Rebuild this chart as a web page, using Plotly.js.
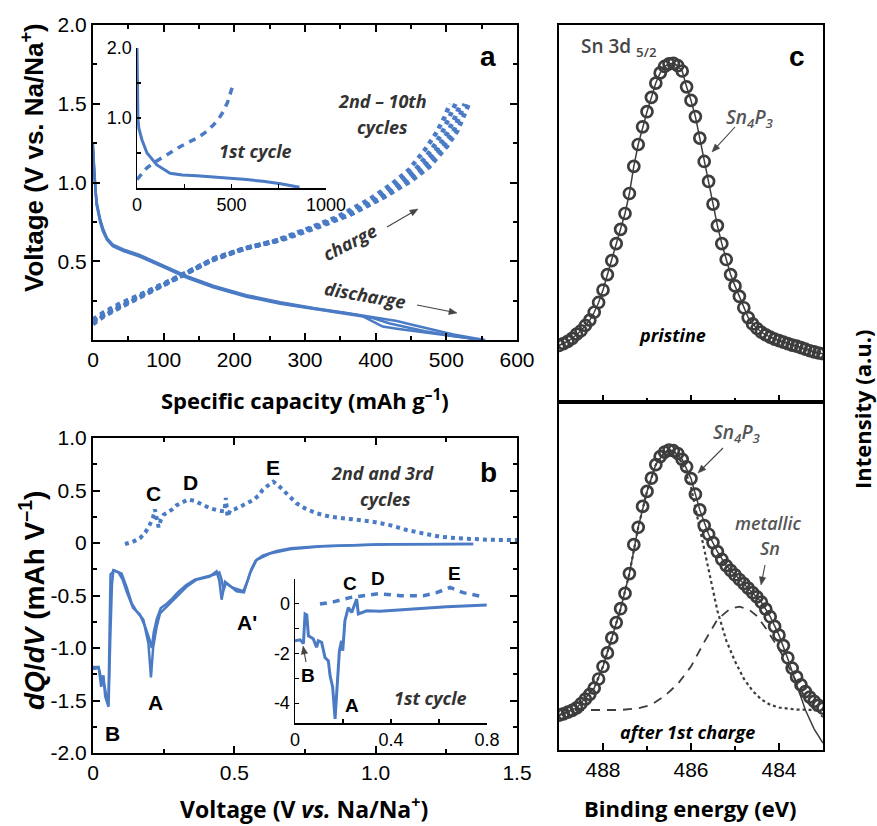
<!DOCTYPE html>
<html><head><meta charset="utf-8">
<script src="https://cdn.plot.ly/plotly-3.0.1.min.js"></script>
<style>html,body{margin:0;padding:0;background:#fff}#chart{width:877px;height:826px}</style>
</head><body><div id="chart"></div>
<script>
// ---------- Panel a : galvanostatic profiles (cycles 2-10) ----------
const disA_cap = [0,2,5,10,14,20,28,43,66,99,133,170,217,265,312,359,380,395,410,430,460,500,530,545];
const disA_V   = [1.25,1.05,0.87,0.76,0.70,0.64,0.60,0.57,0.535,0.47,0.40,0.34,0.28,0.235,0.20,0.17,0.155,0.12,0.085,0.072,0.055,0.03,0.012,0.0];
const disB_cap = [0,2,5,10,14,20,28,43,66,99,133,170,217,265,312,359,396,420,440,470,510,540,550];
const disB_V   = [1.2,1.03,0.86,0.75,0.69,0.635,0.595,0.565,0.53,0.465,0.395,0.335,0.275,0.23,0.197,0.168,0.14,0.105,0.085,0.055,0.025,0.008,0.0];
const disC_cap = [0,2,5,10,14,20,28,43,66,99,133,170,217,265,312,359,396,430,453,480,510,540,555];
const disC_V   = [1.22,1.04,0.88,0.77,0.71,0.645,0.605,0.575,0.54,0.475,0.405,0.345,0.285,0.24,0.203,0.172,0.145,0.12,0.095,0.065,0.035,0.012,0.0];
const chA_cap = [0,15,40,75,123,170,217,264,311,359,406,440,465,488,502,513,520];
const chA_V   = [0.12,0.16,0.22,0.30,0.40,0.515,0.585,0.635,0.71,0.79,0.90,1.0,1.09,1.22,1.32,1.42,1.50];
const chB_cap = [0,15,40,75,120,165,210,255,300,345,390,423,447,470,485,497,505];
const chB_V   = [0.10,0.15,0.21,0.29,0.39,0.50,0.575,0.625,0.70,0.78,0.89,0.99,1.08,1.21,1.31,1.41,1.50];
const chC_cap = [0,15,40,78,126,175,222,270,318,366,413,450,476,501,516,526,532];
const chC_V   = [0.13,0.175,0.235,0.31,0.415,0.525,0.59,0.64,0.715,0.80,0.91,1.01,1.10,1.23,1.33,1.43,1.50];
const chD_cap = [0,15,40,75,122,168,214,260,306,352,399,432,457,480,494,505,513];
const chD_V   = [0.11,0.155,0.215,0.295,0.395,0.505,0.58,0.63,0.705,0.785,0.895,0.995,1.085,1.215,1.315,1.415,1.50];
const chE_cap = [0,15,40,77,125,173,220,268,315,363,410,446,471,495,510,520,526];
const chE_V   = [0.125,0.168,0.228,0.305,0.41,0.52,0.588,0.638,0.712,0.795,0.905,1.005,1.095,1.225,1.325,1.425,1.50];
// inset a : 1st cycle
const dis1_cap = [0,3,5,10,26,53,105,175,240,316,400,491,580,667,760,860];
const dis1_V   = [2.0,1.5,0.98,0.85,0.69,0.50,0.33,0.21,0.185,0.175,0.16,0.14,0.12,0.095,0.06,0.01];
const ch1_cap  = [0,25,53,100,140,185,228,270,316,360,404,435,456,480,500,505];
const ch1_V    = [0.12,0.2,0.29,0.38,0.45,0.52,0.59,0.65,0.71,0.79,0.90,1.0,1.09,1.23,1.38,1.45];

// ---------- Panel b : dQ/dV ----------
const bDis1_V  = [0.0,0.02,0.029,0.037,0.043,0.055,0.061,0.067,0.072,0.101,0.119,0.137,0.154,0.178,0.196,0.205,0.213,0.225,0.237,0.26,0.296,0.33,0.366,0.413,0.437,0.447,0.455,0.467,0.508,0.534,0.555,0.579,0.626,0.697,0.815,1.05,1.345];
const bDis1_dq = [-1.18,-1.18,-1.37,-1.26,-1.46,-1.56,-0.92,-0.40,-0.26,-0.29,-0.42,-0.575,-0.65,-0.73,-0.955,-1.28,-0.99,-0.80,-0.67,-0.61,-0.51,-0.42,-0.35,-0.32,-0.27,-0.36,-0.54,-0.37,-0.46,-0.47,-0.29,-0.16,-0.10,-0.06,-0.03,-0.013,-0.01];
const bDis2_V  = [0.0,0.02,0.03,0.04,0.05,0.055,0.062,0.075,0.09,0.105,0.12,0.142,0.166,0.185,0.2,0.208,0.215,0.226,0.24,0.26,0.28,0.30,0.33,0.36,0.40,0.43,0.447,0.455,0.462,0.47,0.49,0.51,0.532,0.548,0.56,0.575,0.6,0.65,0.7,0.8,1.0,1.345];
const bDis2_dq = [-1.20,-1.19,-1.30,-1.35,-1.50,-1.45,-0.30,-0.26,-0.28,-0.35,-0.47,-0.62,-0.68,-0.80,-0.92,-1.0,-0.85,-0.72,-0.62,-0.58,-0.53,-0.47,-0.40,-0.35,-0.32,-0.30,-0.28,-0.35,-0.45,-0.38,-0.42,-0.44,-0.46,-0.35,-0.25,-0.17,-0.12,-0.075,-0.05,-0.03,-0.015,-0.01];
const bCh_V  = [0.113,0.14,0.166,0.185,0.20,0.212,0.219,0.225,0.232,0.24,0.25,0.26,0.28,0.296,0.315,0.337,0.36,0.39,0.415,0.437,0.455,0.465,0.47,0.476,0.485,0.50,0.52,0.545,0.567,0.585,0.60,0.62,0.638,0.655,0.673,0.695,0.72,0.75,0.79,0.84,0.886,0.94,0.99,1.05,1.11,1.17,1.227,1.29,1.345,1.41,1.475,1.5];
const bCh_dq = [-0.01,0.01,0.045,0.10,0.17,0.24,0.32,0.22,0.15,0.22,0.27,0.285,0.32,0.36,0.39,0.415,0.40,0.36,0.33,0.314,0.305,0.30,0.43,0.25,0.31,0.32,0.345,0.38,0.41,0.45,0.505,0.55,0.584,0.55,0.505,0.44,0.378,0.33,0.283,0.25,0.235,0.22,0.203,0.17,0.124,0.09,0.06,0.045,0.035,0.03,0.029,0.028];
// inset b : 1st cycle
const b1Dis_V  = [0,0.021,0.035,0.042,0.049,0.056,0.076,0.09,0.097,0.111,0.125,0.139,0.146,0.157,0.167,0.176,0.185,0.194,0.199,0.208,0.222,0.236,0.257,0.264,0.299,0.354,0.493,0.632,0.799];
const b1Dis_dq = [-1.49,-1.45,-1.6,-0.41,-0.45,-1.29,-1.41,-1.75,-1.49,-1.55,-2.16,-2.3,-2.89,-3.36,-4.63,-3.36,-1.89,-1.49,-1.89,-0.68,-0.15,-0.35,0.19,-0.41,-0.28,-0.30,-0.20,-0.12,-0.05];
const b1Ch_V  = [0.104,0.16,0.229,0.299,0.347,0.438,0.535,0.59,0.646,0.701,0.785];
const b1Ch_dq = [-0.01,0.08,0.25,0.36,0.41,0.33,0.33,0.45,0.66,0.45,0.28];

// ---------- Panel c : XPS Sn 3d5/2 ----------
const be = [489.0,488.9,488.8,488.7,488.6,488.5,488.4,488.3,488.2,488.1,488.0,487.9,487.8,487.7,487.6,487.5,487.4,487.3,487.2,487.1,487.0,486.9,486.8,486.7,486.6,486.5,486.4,486.3,486.2,486.1,486.0,485.9,485.8,485.7,485.6,485.5,485.4,485.3,485.2,485.1,485.0,484.9,484.8,484.7,484.6,484.5,484.4,484.3,484.2,484.1,484.0,483.9,483.8,483.7,483.6,483.5,483.4,483.3,483.2,483.1,483.0];
const pristine = [0.150,0.155,0.161,0.169,0.180,0.189,0.203,0.217,0.238,0.264,0.297,0.338,0.375,0.420,0.458,0.500,0.553,0.625,0.683,0.730,0.770,0.808,0.846,0.873,0.890,0.897,0.898,0.892,0.878,0.836,0.800,0.757,0.700,0.638,0.585,0.525,0.468,0.420,0.378,0.338,0.308,0.280,0.250,0.224,0.207,0.195,0.185,0.178,0.172,0.167,0.163,0.159,0.155,0.151,0.148,0.144,0.140,0.136,0.133,0.130,0.128];
const charged = [0.100,0.104,0.109,0.114,0.121,0.133,0.146,0.160,0.178,0.204,0.240,0.279,0.322,0.366,0.406,0.450,0.507,0.590,0.640,0.700,0.743,0.781,0.820,0.843,0.856,0.862,0.860,0.852,0.835,0.814,0.780,0.735,0.690,0.645,0.620,0.596,0.570,0.548,0.530,0.516,0.503,0.490,0.478,0.465,0.452,0.440,0.425,0.405,0.383,0.355,0.330,0.300,0.265,0.235,0.210,0.187,0.168,0.152,0.140,0.128,0.120];
const fitEnv_be = [489.0,488.6,488.2,488.0,487.8,487.6,487.4,487.2,487.0,486.8,486.6,486.5,486.4,486.2,486.0,485.8,485.6,485.4,485.2,485.0,484.8,484.6,484.4,484.2,484.0,483.8,483.6,483.4,483.2,483.0];
const fitEnv   = [0.100,0.121,0.178,0.240,0.322,0.406,0.507,0.640,0.743,0.820,0.856,0.862,0.860,0.835,0.780,0.690,0.620,0.570,0.530,0.503,0.478,0.452,0.425,0.383,0.330,0.262,0.190,0.115,0.060,0.020];
const sn4p3_be = [489.0,488.6,488.2,488.0,487.8,487.6,487.4,487.2,487.0,486.8,486.6,486.5,486.4,486.2,486.0,485.8,485.6,485.4,485.2,485.0,484.8,484.6,484.4,484.2,484.0,483.6,483.0];
const sn4p3    = [0.100,0.121,0.178,0.240,0.322,0.406,0.507,0.640,0.743,0.820,0.855,0.860,0.857,0.825,0.755,0.635,0.510,0.400,0.315,0.255,0.205,0.170,0.145,0.130,0.122,0.116,0.115];
const snMet_be = [489.0,487.6,487.2,486.9,486.6,486.3,486.0,485.7,485.4,485.1,484.9,484.7,484.5,484.3,484.1,483.9,483.6,483.4,483.2,483.0];
const snMet    = [0.115,0.115,0.120,0.130,0.155,0.190,0.240,0.310,0.375,0.407,0.412,0.405,0.385,0.350,0.310,0.268,0.195,0.150,0.115,0.095];

// ---------- style / layout helpers ----------
const W = 877, H = 826;
const X = p => p / W, Y = p => 1 - p / H;
const BLUE = '#4a7bc4', GREY = '#3d3d3d';
const TICKFONT = {family:'Liberation Sans, Arial, sans-serif', size:21, color:'#000'};
const INFONT = {family:'Liberation Sans, Arial, sans-serif', size:18, color:'#000'};

function line(x, y, xa, ya, dash, width, color) {
  return {x:x, y:y, xaxis:xa, yaxis:ya, mode:'lines', type:'scatter', hoverinfo:'skip',
          line:{color:color||BLUE, width:width||2.5, dash:dash||'solid'}};
}
const traces = [
  line(disA_cap, disA_V, 'x', 'y'), line(disB_cap, disB_V, 'x', 'y'), line(disC_cap, disC_V, 'x', 'y'),
  line(chA_cap, chA_V, 'x', 'y', 'dot', 4.5), line(chB_cap, chB_V, 'x', 'y', 'dot', 4.5), line(chC_cap, chC_V, 'x', 'y', 'dot', 4.5),
  line(chD_cap, chD_V, 'x', 'y', 'dot', 4.5), line(chE_cap, chE_V, 'x', 'y', 'dot', 4.5),
  line(dis1_cap, dis1_V, 'x2', 'y2', 'solid', 3), line(ch1_cap, ch1_V, 'x2', 'y2', '7px,6px', 3.5),
  line(bDis1_V, bDis1_dq, 'x3', 'y3'), line(bDis2_V, bDis2_dq, 'x3', 'y3'),
  line(bCh_V, bCh_dq, 'x3', 'y3', 'dot', 4),
  line(b1Dis_V, b1Dis_dq, 'x4', 'y4', 'solid', 3), line(b1Ch_V, b1Ch_dq, 'x4', 'y4', '7px,6px', 3.5),
  line(be, pristine, 'x5', 'y5', 'solid', 1.5, GREY),
  {x:be, y:pristine, xaxis:'x5', yaxis:'y5', mode:'markers', type:'scatter', hoverinfo:'skip',
   marker:{symbol:'circle-open', size:11, color:GREY, line:{width:2.7}}},
  line(sn4p3_be, sn4p3, 'x6', 'y6', 'dot', 2.2, GREY),
  line(snMet_be, snMet, 'x6', 'y6', '9px,7px', 1.8, GREY),
  line(fitEnv_be, fitEnv, 'x6', 'y6', 'solid', 1.5, GREY),
  {x:be, y:charged, xaxis:'x6', yaxis:'y6', mode:'markers', type:'scatter', hoverinfo:'skip',
   marker:{symbol:'circle-open', size:11, color:GREY, line:{width:2.7}}}
];

const MINOR = {ticks:'inside', ticklen:4, tickwidth:2, tickcolor:'#000'};
function mainAxis(dom, range, extra) {
  return Object.assign({domain:dom, range:range, showgrid:false, zeroline:false, showline:true,
    linecolor:'#000', linewidth:2, mirror:'ticks', ticks:'inside', ticklen:7, tickwidth:2, tickcolor:'#000',
    tickfont:TICKFONT, fixedrange:true}, extra);
}
function insetAxis(dom, range, extra) {
  return Object.assign({domain:dom, range:range, showgrid:false, zeroline:false, showline:true,
    linecolor:'#000', linewidth:1.5, ticks:'inside', ticklen:4, tickwidth:1.2, tickcolor:'#000',
    tickfont:INFONT, fixedrange:true}, extra);
}
const inMinor = v => ({tickvals:v, ticks:'inside', ticklen:4, tickwidth:1.2, tickcolor:'#000'});

const layout = {
  width:W, height:H, margin:{l:0, r:0, t:0, b:0}, showlegend:false,
  paper_bgcolor:'#fff', plot_bgcolor:'rgba(0,0,0,0)',
  // panel a
  xaxis: mainAxis([X(93), X(517)], [0,600], {anchor:'y', tickvals:[0,100,200,300,400,500,600],
    ticktext:['0','100','200','300','400','500','600'], minor:Object.assign({tickvals:[50,150,250,350,450,550]}, MINOR)}),
  yaxis: mainAxis([Y(340), Y(25)], [0,2], {anchor:'x', tickvals:[0.5,1,1.5,2],
    ticktext:['0.5','1.0','1.5','2.0'], minor:Object.assign({tickvals:[0.25,0.75,1.25,1.75]}, MINOR)}),
  xaxis2: insetAxis([X(137), X(326)], [0,1000], {anchor:'y2', tickvals:[0,500,1000], ticktext:['0','500','1000'], minor:inMinor([250,750])}),
  yaxis2: insetAxis([Y(188), Y(48)], [0,2], {anchor:'x2', tickvals:[1,2], ticktext:['1.0','2.0'], minor:inMinor([0.5,1.5])}),
  // panel b
  xaxis3: mainAxis([X(93), X(517)], [0,1.5], {anchor:'y3', tickvals:[0,0.5,1,1.5], ticktext:['0','0.5','1.0','1.5'],
    minor:Object.assign({tickvals:[0.25,0.75,1.25]}, MINOR)}),
  yaxis3: mainAxis([Y(753), Y(438)], [-2,1], {anchor:'x3', tickvals:[-2,-1.5,-1,-0.5,0,0.5,1],
    ticktext:['-2.0','-1.5','-1.0','-0.5','0','0.5','1.0'],
    minor:Object.assign({tickvals:[-1.75,-1.25,-0.75,-0.25,0.25,0.75]}, MINOR)}),
  xaxis4: insetAxis([X(295), X(487)], [0,0.8], {anchor:'y4', tickvals:[0,0.4,0.8], ticktext:['0','0.4','0.8'], minor:inMinor([0.2,0.6])}),
  yaxis4: insetAxis([Y(723), Y(579)], [-4.8,1], {anchor:'x4', tickvals:[-4,-2,0], ticktext:['-4','-2','0'], minor:inMinor([-3,-1,1])}),
  // panel c
  xaxis5: {domain:[X(559), X(823)], range:[489,483], anchor:'y5', showgrid:false, zeroline:false, showline:true,
    linecolor:'#000', linewidth:2, mirror:true, ticks:'inside', ticklen:7, tickwidth:2, tickcolor:'#000',
    tickvals:[488,486,484], showticklabels:false,
    minor:Object.assign({tickvals:[487,485]}, MINOR), fixedrange:true},
  yaxis5: {domain:[Y(402), Y(25)], range:[0,1], anchor:'x5', showgrid:false, zeroline:false, showline:true,
    linecolor:'#000', linewidth:2, mirror:true, ticks:'', showticklabels:false, fixedrange:true},
  xaxis6: {domain:[X(559), X(823)], range:[489,483], anchor:'y6', showgrid:false, zeroline:false, showline:true,
    linecolor:'#000', linewidth:2, mirror:true, ticks:'inside', ticklen:7, tickwidth:2, tickcolor:'#000',
    tickvals:[488,486,484], ticktext:['488','486','484'], tickfont:TICKFONT,
    minor:Object.assign({tickvals:[487,485]}, MINOR), fixedrange:true},
  yaxis6: {domain:[Y(750), Y(402)], range:[0,1], anchor:'x6', showgrid:false, zeroline:false, showline:true,
    linecolor:'#000', linewidth:2, mirror:true, ticks:'', showticklabels:false, fixedrange:true},
  annotations: [], shapes: []
};

const OS = 'Open Sans, sans-serif', AR = 'Liberation Sans, Arial, sans-serif';
function txt(t, x, y, o) {
  o = o || {};
  return {text:t, x:X(x), y:Y(y), xref:'paper', yref:'paper', showarrow:false,
    xanchor:o.xa||'center', yanchor:'middle', textangle:o.angle||0,
    font:{family:o.fam||OS, size:o.size||18, color:o.color||'#333', weight:o.weight||'normal', style:o.style||'normal'}};
}
// arrows drawn as shapes: tail (x1,y1) -> head (x2,y2), pixel positions
function arrow(x1, y1, x2, y2) {
  const dx = x2 - x1, dy = y2 - y1, len = Math.hypot(dx, dy), ux = dx/len, uy = dy/len;
  const hl = 8, hw = 3.2;
  const bx = x2 - ux*hl, by = y2 - uy*hl;
  layout.shapes.push({type:'line', xref:'paper', yref:'paper', x0:X(x1), y0:Y(y1), x1:X(bx + ux*2), y1:Y(by + uy*2),
    line:{color:'#444', width:1.1}});
  const p = `M ${X(x2)} ${Y(y2)} L ${X(bx - uy*hw)} ${Y(by + ux*hw)} L ${X(bx + uy*hw)} ${Y(by - ux*hw)} Z`;
  layout.shapes.push({type:'path', xref:'paper', yref:'paper', path:p, fillcolor:'#444', line:{color:'#444', width:0.5}});
}
const BI = {weight:'bold', style:'italic'};
const L = (o) => Object.assign({fam:AR, weight:'bold', size:21, color:'#000'}, o||{});
layout.annotations.push(
  // axis titles
  txt('Voltage (V vs. Na/Na<sup>+</sup>)', 32, 158, {fam:AR, weight:'bold', size:26, color:'#000', angle:-90}),
  txt('Specific capacity (mAh g<sup>\u20131</sup>)', 305, 400, {weight:'bold', size:22, color:'#000'}),
  txt('<i>dQ</i>/<i>dV</i> (mAh V<sup>\u20131</sup>)', 32, 601, {fam:AR, weight:'bold', size:28, color:'#000', angle:-90}),
  txt('Voltage (V <i>vs.</i> Na/Na<sup>+</sup>)', 304, 808, {weight:'bold', size:23, color:'#000'}),
  txt('Binding energy (eV)', 690, 808, {weight:'bold', size:22, color:'#000'}),
  txt('Intensity (a.u.)', 862, 410, {weight:'bold', size:22, color:'#000', angle:-90}),
  // panel a
  txt('a', 488, 57, L({size:28})),
  txt('2nd \u2013 10th', 382, 101, BI), txt('cycles', 382, 127, BI),
  txt('1st cycle', 255, 151, BI),
  txt('charge', 350, 242, Object.assign({angle:-27}, BI)),
  txt('discharge', 365, 295, Object.assign({angle:10}, BI)),
  // panel b
  txt('b', 488, 472, L({size:28})),
  txt('2nd and 3rd', 383, 473, BI), txt('cycles', 385, 499, BI),
  txt('C', 153, 493, L()), txt('D', 190, 482, L()), txt('E', 273, 467, L()),
  txt('A', 155, 702, L()), txt('B', 112, 733, L()), txt("A'", 247, 622, L()),
  txt('C', 350, 583, L({size:19})), txt('D', 378, 578, L({size:19})), txt('E', 454, 573, L({size:19})),
  txt('B', 308, 675, L({size:19})), txt('A', 352, 705, L({size:19})),
  txt('1st cycle', 430, 698, BI),
  // panel c
  txt('c', 797, 56, L({size:28})),
  txt('Sn 3d <sub>5/2</sub>', 579, 47, {xa:'left', weight:'600', size:19, color:'#444'}),
  txt('<i>Sn<sub>4</sub>P<sub>3</sub></i>', 750, 118, {size:19, weight:'600', color:'#555'}),
  txt('pristine', 672, 335, Object.assign({color:'#000'}, BI)),
  txt('<i>Sn<sub>4</sub>P<sub>3</sub></i>', 737, 433, {size:19, weight:'600', color:'#555'}),
  txt('<i>metallic</i>', 768, 523, {size:18, weight:'600', color:'#555'}),
  txt('<i>Sn</i>', 770, 548, {size:18, weight:'600', color:'#555'}),
  txt('after 1st charge', 687, 732, Object.assign({color:'#000'}, BI))
);
arrow(387, 227, 418, 209); arrow(417, 305, 457, 313);
arrow(306, 662, 303, 646);
arrow(735, 127, 712, 152); arrow(723, 448, 698, 473); arrow(765, 565, 761, 585);

Plotly.newPlot('chart', traces, layout, {displayModeBar:false, staticPlot:true});
</script>
</body></html>
